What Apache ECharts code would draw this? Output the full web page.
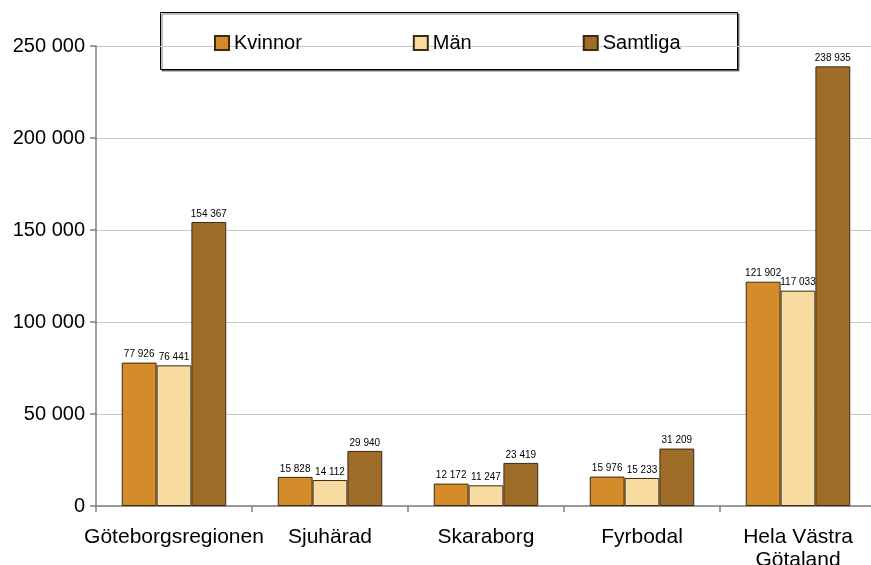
<!DOCTYPE html>
<html>
<head>
<meta charset="utf-8">
<script src="https://cdn.jsdelivr.net/npm/echarts@6/dist/echarts.min.js"></script>
<style>html,body{margin:0;padding:0;background:#fff;overflow:hidden}#c{width:871px;height:565px}</style>
</head>
<body>
<div id="c"></div>
<script>
const categories = ['Göteborgsregionen', 'Sjuhärad', 'Skaraborg', 'Fyrbodal', 'Hela Västra\nGötaland'];
const kvinnor = [77926, 15828, 12172, 15976, 121902];
const man = [76441, 14112, 11247, 15233, 117033];
const samtliga = [154367, 29940, 23419, 31209, 238935];
const seriesNames = ['Kvinnor', 'Män', 'Samtliga'];
const colors = ['#d48b2a', '#f7dba0', '#a06c2a'];

function fmt(v) {
  return String(v).replace(/\B(?=(\d{3})+(?!\d))/g, ' ');
}
const font = 'Liberation Sans, Arial, sans-serif';
const chart = echarts.init(document.getElementById('c'), null, {renderer: 'canvas'});
const dataSets = [kvinnor, man, samtliga];
chart.setOption({
  animation: false,
  backgroundColor: '#fff',
  grid: {left: 96, right: -5, top: 46, bottom: 59, containLabel: false, outerBoundsMode: 'none'},
  graphic: [{
    type: 'rect',
    left: 160, top: 12, z: 0,
    shape: {width: 577, height: 57},
    style: {fill: '#fff', stroke: '#000', lineWidth: 1,
      shadowColor: 'rgba(0,0,0,0.5)', shadowOffsetX: 1.5, shadowOffsetY: 1.5, shadowBlur: 0}
  }],
  legend: {
    left: 160, top: 12,
    padding: [21, 57, 16, 54],
    itemGap: 111,
    itemWidth: 14, itemHeight: 14,
    icon: 'rect',
    z: 10,
    textStyle: {fontFamily: font, fontSize: 20, color: '#000'},
    data: seriesNames
  },
  xAxis: {
    type: 'category',
    data: categories,
    axisLine: {lineStyle: {color: '#808080', width: 1.5}},
    axisTick: {show: true, length: 6, alignWithLabel: false, lineStyle: {color: '#808080', width: 1.5}},
    axisLabel: {fontFamily: font, fontSize: 21, color: '#000', margin: 20, lineHeight: 23, interval: 0}
  },
  yAxis: {
    type: 'value',
    min: 0, max: 250000, interval: 50000,
    axisLine: {show: true, lineStyle: {color: '#808080', width: 1.5}},
    axisTick: {show: true, length: 6, lineStyle: {color: '#808080', width: 1.5}},
    splitLine: {lineStyle: {color: '#c8c8c8', width: 1}},
    axisLabel: {fontFamily: font, fontSize: 20, color: '#000', margin: 11, formatter: fmt}
  },
  series: dataSets.map((d, i) => ({
    name: seriesNames[i],
    type: 'bar',
    data: d,
    barGap: '0%',
    barCategoryGap: '33%',
    itemStyle: {color: colors[i], borderColor: '#3a2a10', borderWidth: 1},
    label: {
      show: true, position: 'top', distance: 3,
      fontFamily: font, fontSize: 10, color: '#000',
      formatter: p => fmt(p.value)
    }
  }))
});
</script>
</body>
</html>
